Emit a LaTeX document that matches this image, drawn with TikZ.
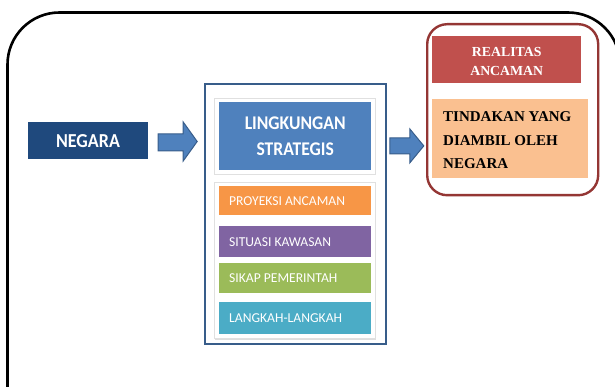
\documentclass[tikz,border=0pt]{standalone}
\usepackage{fontspec}
\setmainfont{Liberation Serif}
\newfontfamily\calfont{Carlito}
\usetikzlibrary{shadows,calc}
\definecolor{navy}{HTML}{1F497D}
\definecolor{accblue}{HTML}{4F81BD}
\definecolor{arrline}{HTML}{385D8A}
\definecolor{orng}{HTML}{F79646}
\definecolor{purp}{HTML}{8064A2}
\definecolor{grn}{HTML}{9BBB59}
\definecolor{tealc}{HTML}{4BACC6}
\definecolor{redb}{HTML}{C0504D}
\definecolor{peach}{HTML}{FAC090}
\definecolor{framec}{HTML}{943634}
\tikzset{
  plate/.style={fill=white, draw=black!12, line width=0.8pt, drop shadow={shadow xshift=1pt, shadow yshift=-1.5pt, fill=black!25, opacity=0.5}},
  listbox/.style={inner sep=0pt, anchor=north west, minimum width=152},
  listtext/.style={anchor=west, text=white, font=\calfont\fontsize{13.6}{15}\selectfont, inner sep=0pt},
  blockarrow/.style={fill=accblue, draw=arrline, line width=1pt, line join=miter},
}
\begin{document}
\begin{tikzpicture}[x=1pt,y=-1pt]
\useasboundingbox (0,0) rectangle (615,387);
% outer frame
\draw[line width=2.6pt, rounded corners=52pt] (7.5,430) -- (7.5,12.5) -- (620,12.5) -- (620,430);
% NEGARA
\node[fill=navy, minimum width=120, minimum height=37, inner sep=0pt, text=white, font=\calfont\bfseries\fontsize{18}{20}\selectfont] (negara) at (88,141) {\scalebox{1}[1.1]{NEGARA}};
% central container
\node[draw=arrline, line width=1.8pt, fill=white, minimum width=181, minimum height=260, inner sep=0pt, anchor=north west] (cont) at (204,83) {};
% plates
\path[plate] (214,98) rectangle (375,174);
\path[plate] (214,182) rectangle (375,338);
\node[fill=accblue, minimum width=152, minimum height=68, inner sep=0pt, anchor=north west, text=white, font=\calfont\bfseries\fontsize{17.6}{26}\selectfont, align=center] (lk) at (219,102) {\scalebox{1}[1.1]{LINGKUNGAN}\\\scalebox{1}[1.1]{STRATEGIS}};
\node[fill=orng, minimum height=29, listbox] (p1) at (219,186) {};
\node[listtext] (t1) at ([xshift=10pt]p1.west) {PROYEKSI ANCAMAN};
\node[fill=purp, minimum height=31, listbox] (p2) at (219,226) {};
\node[listtext] (t2) at ([xshift=10pt]p2.west) {SITUASI KAWASAN};
\node[fill=grn, minimum height=30, listbox] (p3) at (219,263) {};
\node[listtext] (t3) at ([xshift=10pt]p3.west) {SIKAP PEMERINTAH};
\node[fill=tealc, minimum height=32, listbox] (p4) at (219,302) {};
\node[listtext] (t4) at ([xshift=10pt]p4.west) {LANGKAH-LANGKAH};
% right container
\node[draw=framec, line width=2.4pt, rounded corners=20pt, minimum width=171, minimum height=171, inner sep=0pt, anchor=north west] (rc) at (426,23) {};
\node[fill=redb, minimum width=149, minimum height=47, inner sep=0pt, anchor=north west] (real) at (432,36) {};
\node[inner sep=0pt, text=white, font=\bfseries\fontsize{13.8}{19}\selectfont, align=center] (rt) at ($(real.center)+(0,2)$) {REALITAS\\ANCAMAN};
\node[fill=peach, minimum width=156, minimum height=79, inner sep=0pt, anchor=north west] (tind) at (432,99) {};
\node[anchor=west, inner sep=0pt, font=\bfseries\fontsize{15}{23.5}\selectfont, align=left] (tt) at ($(tind.west)+(11,1.5)$) {TINDAKAN YANG\\DIAMBIL OLEH\\NEGARA};
% block arrows
\coordinate (a1) at ($(negara.east)+(10,-7)$);
\coordinate (a2) at ($(cont.east)+(3,-76)$);
\draw[blockarrow] (a1) -- ++(25,0) -- ++(0,-12) -- ++(14,19.5) -- ++(-14,19.5) -- ++(0,-10) -- ++(-25,0) -- cycle;
\draw[blockarrow] (a2) -- ++(20,0) -- ++(0,-9) -- ++(14,17) -- ++(-14,17) -- ++(0,-9) -- ++(-20,0) -- cycle;
\end{tikzpicture}
\end{document}
